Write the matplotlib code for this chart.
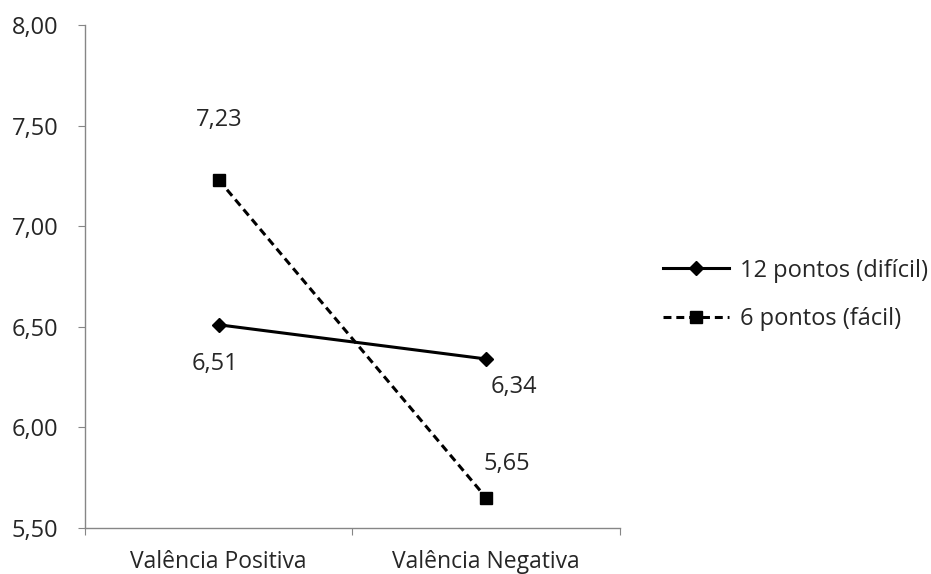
import matplotlib.pyplot as plt

categories = ["Valência Positiva", "Valência Negativa"]
dificil = [6.51, 6.34]
facil = [7.23, 5.65]
series_names = ["12 pontos (difícil)", "6 pontos (fácil)"]
yticks = [5.5, 6.0, 6.5, 7.0, 7.5, 8.0]

plt.rcParams['font.family'] = ['Open Sans', 'DejaVu Sans']

fig = plt.figure(figsize=(9.31, 5.74), dpi=100)
ax = fig.add_axes([85 / 931, 1 - 528 / 574, (620 - 85) / 931, (528 - 25) / 574])

xs = [0.5, 1.5]
grey = "#868686"
txt = "#262626"

l1, = ax.plot(xs, dificil, color="black", lw=2.2, marker="D", ms=7.5, label=series_names[0])
l2, = ax.plot(xs, facil, color="black", lw=2.2, ls=(0, (2.6, 1.6)), marker="s", ms=8.5,
              label=series_names[1])

fmt = lambda v: f"{v:.2f}".replace(".", ",")
# data labels placed like in the original (offsets in pixels)
labels = [(facil[0], xs[0], (0, 60)), (dificil[0], xs[0], (-4, -39)),
          (dificil[1], xs[1], (28, -28)), (facil[1], xs[1], (21, 34))]
for v, x, off in labels:
    ax.annotate(fmt(v), (x, v), xytext=off, textcoords="offset pixels",
                ha="center", va="center", fontsize=17, color=txt)

ax.set_xlim(0, 2)
ax.set_ylim(5.5, 8.0)
ax.set_yticks(yticks)
ax.set_yticklabels([fmt(v) for v in yticks])
ax.set_xticks([0, 1, 2])
ax.set_xticklabels([])
ax.set_xticks(xs, minor=True)
ax.set_xticklabels(categories, minor=True)
ax.tick_params(axis="x", which="minor", length=0, pad=16, labelsize=16.5, labelcolor=txt)
ax.tick_params(axis="x", which="major", length=5, color=grey, direction="out")
ax.tick_params(axis="y", length=5, color=grey, labelsize=17, labelcolor=txt, pad=14)

for s in ["top", "right"]:
    ax.spines[s].set_visible(False)
for s in ["left", "bottom"]:
    ax.spines[s].set_color(grey)
    ax.spines[s].set_linewidth(1)

fig.legend(handles=[l1, l2], loc="center left", bbox_to_anchor=(663 / 931, 1 - 295 / 574),
           frameon=False, fontsize=17, handlelength=2.8, handletextpad=0.45,
           labelspacing=1.05, labelcolor=txt, borderpad=0, borderaxespad=0)

fig.savefig("out.png", dpi=100)
